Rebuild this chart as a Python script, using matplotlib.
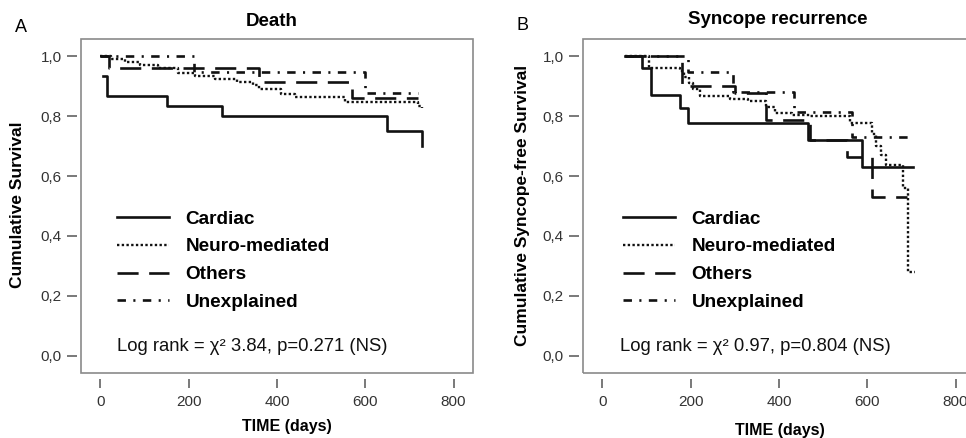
import matplotlib
matplotlib.use('Agg')
import matplotlib.pyplot as plt
from matplotlib.patches import Rectangle

plt.rcParams['font.family'] = ['Liberation Sans', 'DejaVu Sans']

groups = ['Cardiac', 'Neuro-mediated', 'Others', 'Unexplained']

# Panel A - death (time in days, cumulative survival)
death_cardiac_t = [5, 15, 150, 275, 650, 728]
death_cardiac_s = [0.933, 0.867, 0.833, 0.80, 0.75, 0.70]
death_neuro_t = [0, 25, 55, 90, 130, 175, 215, 260, 310, 345, 360, 410, 440, 555, 720, 728]
death_neuro_s = [1.0, 0.99, 0.98, 0.97, 0.96, 0.945, 0.935, 0.925, 0.915, 0.905, 0.89, 0.875, 0.863, 0.847, 0.835, 0.827]
death_others_t = [0, 20, 360, 570, 720]
death_others_s = [1.0, 0.96, 0.913, 0.86, 0.86]
death_unexpl_t = [0, 213, 600, 720]
death_unexpl_s = [1.0, 0.947, 0.877, 0.877]

# Panel B - syncope recurrence
syn_cardiac_t = [52, 90, 109, 175, 193, 465, 589, 703]
syn_cardiac_s = [1.0, 0.96, 0.87, 0.827, 0.777, 0.72, 0.63, 0.63]
syn_neuro_t = [52, 105, 175, 185, 195, 205, 220, 290, 330, 370, 392, 430, 470, 560, 611, 620, 630, 643, 680, 693, 708]
syn_neuro_s = [1.0, 0.96, 0.95, 0.93, 0.91, 0.89, 0.867, 0.857, 0.85, 0.83, 0.81, 0.805, 0.80, 0.777, 0.74, 0.70, 0.67, 0.637, 0.56, 0.28, 0.28]
syn_others_t = [52, 180, 300, 370, 470, 555, 610, 690]
syn_others_s = [1.0, 0.90, 0.877, 0.787, 0.72, 0.663, 0.53, 0.53]
syn_unexpl_t = [52, 193, 295, 435, 566, 698]
syn_unexpl_s = [1.0, 0.947, 0.88, 0.813, 0.73, 0.73]

x_ticks = [0, 200, 400, 600, 800]
y_ticks = [0.0, 0.2, 0.4, 0.6, 0.8, 1.0]
y_ticklabels = ['0,0', '0,2', '0,4', '0,6', '0,8', '1,0']

styles = {
    'Cardiac': dict(linestyle='-', lw=1.9),
    'Neuro-mediated': dict(linestyle=(0, (1, 1)), lw=1.7),
    'Others': dict(linestyle=(0, (8, 4)), lw=1.9),
    'Unexplained': dict(linestyle=(0, (3.2, 2.8, 0.8, 2.8)), lw=1.9),
}

W, H = 966, 438
fig = plt.figure(figsize=(W / 100, H / 100), dpi=100)


def px_rect(x0, y0, x1, y1):
    return [x0 / W, 1 - y1 / H, (x1 - x0) / W, (y1 - y0) / H]


def setup(ax):
    ax.set_xlim(-44, 844)
    ax.set_ylim(-0.057, 1.057)
    for s in ax.spines.values():
        s.set_color('none')
    ax.spines['left'].set_position(('outward', 3))
    ax.spines['bottom'].set_position(('outward', 4))
    ax.add_patch(Rectangle((0, 0), 1, 1, transform=ax.transAxes, fill=False,
                           edgecolor='#8a8a8a', lw=1.2, clip_on=False, zorder=5))
    ax.set_xticks(x_ticks)
    ax.set_yticks(y_ticks)
    ax.set_yticklabels(y_ticklabels)
    ax.tick_params(axis='y', direction='out', length=7.2, width=1.1, color='#555555',
                   pad=3.5, labelsize=11, labelcolor='#333333')
    ax.tick_params(axis='x', direction='out', length=6.5, width=1.1, color='#555555',
                   pad=5.5, labelsize=11, labelcolor='#333333')


def draw(ax, data, leg_x, text_x, logrank):
    handles = []
    for name, (t, s) in zip(groups, data):
        h, = ax.step(t, s, where='post', color='#111111', label=name, **styles[name])
        handles.append(h)
    ax.legend(handles=handles, loc='upper left', bbox_to_anchor=(leg_x, 0.487),
              frameon=False, borderpad=0, borderaxespad=0, handlelength=2.75,
              handletextpad=0.85, labelspacing=0.55,
              prop={'weight': 'bold', 'size': 13.7})
    ax.text(text_x, 0.078, logrank, transform=ax.transAxes, va='center', ha='left',
            fontsize=13.3, color='#111111')


axA = fig.add_axes(px_rect(81, 39, 473, 373))
setup(axA)
draw(axA, [(death_cardiac_t, death_cardiac_s), (death_neuro_t, death_neuro_s),
           (death_others_t, death_others_s), (death_unexpl_t, death_unexpl_s)],
     0.092, 0.092, 'Log rank = \u03c7\u00b2 3.84, p=0.271 (NS)')

axB = fig.add_axes(px_rect(583, 39, 975, 373))
setup(axB)
draw(axB, [(syn_cardiac_t, syn_cardiac_s), (syn_neuro_t, syn_neuro_s),
           (syn_others_t, syn_others_s), (syn_unexpl_t, syn_unexpl_s)],
     0.102, 0.094, 'Log rank = \u03c7\u00b2 0.97, p=0.804 (NS)')


def ftext(x, y, s, **kw):
    fig.text(x / W, 1 - y / H, s, ha='center', va='center', **kw)


ftext(272, 22, 'Death', fontweight='bold', fontsize=13.5)
ftext(778, 20, 'Syncope recurrence', fontweight='bold', fontsize=13.5)
ftext(21, 28, 'A', fontsize=13)
ftext(522, 25, 'B', fontsize=13)
ftext(287, 426, 'TIME (days)', fontweight='bold', fontsize=11.5)
ftext(780, 431, 'TIME (days)', fontweight='bold', fontsize=11.5)
ftext(18, 205, 'Cumulative Survival', fontweight='bold', fontsize=12.5, rotation=90)
ftext(522, 205, 'Cumulative Syncope-free Survival', fontweight='bold', fontsize=12.5, rotation=90)

fig.savefig('out.png', dpi=100)
